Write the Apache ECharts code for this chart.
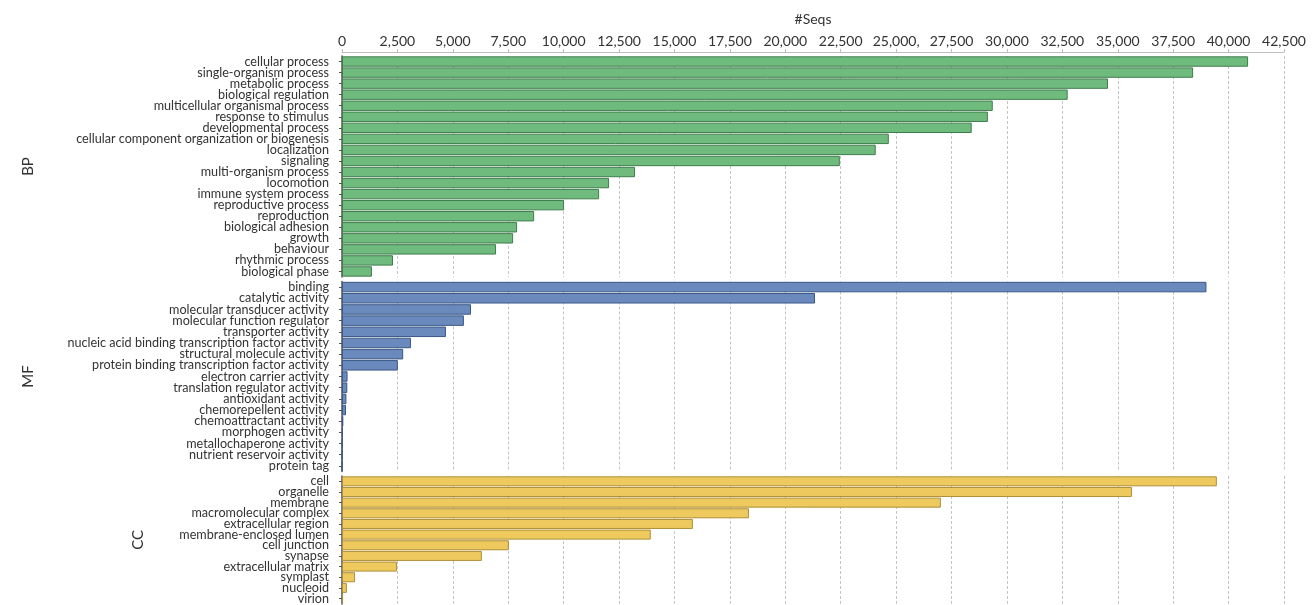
<!DOCTYPE html>
<html>
<head>
<meta charset="utf-8">
<script src="https://cdn.jsdelivr.net/npm/echarts@6/dist/echarts.min.js"></script>
<style>
  html, body { margin: 0; padding: 0; background: #ffffff; }
  #chart { width: 1312px; height: 605px; }
</style>
</head>
<body>
<div id="chart"></div>
<script>
// GO term counts per ontology (number of sequences)
const bpCategories = [
  'cellular process', 'single-organism process', 'metabolic process', 'biological regulation',
  'multicellular organismal process', 'response to stimulus', 'developmental process',
  'cellular component organization or biogenesis', 'localization', 'signaling',
  'multi-organism process', 'locomotion', 'immune system process', 'reproductive process',
  'reproduction', 'biological adhesion', 'growth', 'behaviour', 'rhythmic process', 'biological phase'
];
const bpValues = [
  40880, 38400, 34560, 32740, 29360, 29140, 28410, 24670, 24080, 22460,
  13220, 12050, 11600, 10020, 8670, 7900, 7720, 6950, 2300, 1350
];

const mfCategories = [
  'binding', 'catalytic activity', 'molecular transducer activity', 'molecular function regulator',
  'transporter activity', 'nucleic acid binding transcription factor activity',
  'structural molecule activity', 'protein binding transcription factor activity',
  'electron carrier activity', 'translation regulator activity', 'antioxidant activity',
  'chemorepellent activity', 'chemoattractant activity', 'morphogen activity',
  'metallochaperone activity', 'nutrient reservoir activity', 'protein tag'
];
const mfValues = [
  39000, 21340, 5820, 5500, 4690, 3110, 2760, 2520,
  250, 240, 200, 180, 60, 40, 20, 15, 5
];

const ccCategories = [
  'cell', 'organelle', 'membrane', 'macromolecular complex', 'extracellular region',
  'membrane-enclosed lumen', 'cell junction', 'synapse', 'extracellular matrix',
  'symplast', 'nucleoid', 'virion'
];
const ccValues = [
  39470, 35640, 27020, 18360, 15830, 13930, 7530, 6310, 2480, 590, 220, 50
];

const xTickStep = 2500;
const xTickLabels = [
  '0', '2,500', '5,000', '7,500', '10,000', '12,500', '15,000', '17,500', '20,000',
  '22,500', '25,000,', '27,500', '30,000', '32,500', '35,000', '37,500', '40,000', '42,500'
];

const FONT = 'Lato, "Liberation Sans", sans-serif';
const LEFT = 342;
const RIGHT = 28;

const panels = [
  { name: 'BP', cats: bpCategories, vals: bpValues, top: 56, height: 221, nameGap: 306,
    fill: '#6fbb7d', edge: '#3f7d4d' },
  { name: 'MF', cats: mfCategories, vals: mfValues, top: 281.5, height: 190, nameGap: 306,
    fill: '#6a89bd', edge: '#3a5886' },
  { name: 'CC', cats: ccCategories, vals: ccValues, top: 476, height: 129, nameGap: 196,
    fill: '#edc95e', edge: '#b08f35' }
];

const grid = [], xAxis = [], yAxis = [], series = [];

panels.forEach((p, i) => {
  grid.push({ left: LEFT, right: RIGHT, top: p.top, height: p.height });
  const isTop = i === 0;
  xAxis.push({
    gridIndex: i,
    type: 'value',
    position: 'top',
    min: 0,
    max: 42500,
    interval: xTickStep,
    offset: isTop ? 4 : 0,
    name: isTop ? '#Seqs' : '',
    nameLocation: 'middle',
    nameGap: 26,
    nameMoveOverlap: false,
    nameTextStyle: { fontFamily: FONT, fontSize: 14, color: '#333333' },
    axisLine: { show: isTop, lineStyle: { color: '#bdbdbd', width: 1 } },
    axisTick: { show: isTop, length: 3, lineStyle: { color: '#bdbdbd' } },
    axisLabel: {
      show: isTop,
      margin: 4,
      fontFamily: FONT,
      fontSize: 14,
      color: '#333333',
      formatter: v => xTickLabels[Math.round(v / xTickStep)] ?? ''
    },
    splitLine: { show: true, lineStyle: { color: '#c4c4c4', type: [3, 2], width: 1 } }
  });
  yAxis.push({
    gridIndex: i,
    type: 'category',
    data: p.cats,
    inverse: true,
    name: p.name,
    nameLocation: 'middle',
    nameRotate: 90,
    nameGap: p.nameGap,
    nameMoveOverlap: false,
    nameTextStyle: { fontFamily: FONT, fontSize: 15, color: '#333333' },
    axisLine: { show: true, lineStyle: { color: '#555555', width: 1.5 } },
    axisTick: { show: true, length: 3, alignWithLabel: true, lineStyle: { color: '#555555' } },
    axisLabel: {
      margin: 13,
      fontFamily: FONT,
      fontSize: 12.6,
      color: '#333333',
      interval: 0,
      lineHeight: 12
    },
    splitLine: { show: false }
  });
  series.push({
    type: 'bar',
    xAxisIndex: i,
    yAxisIndex: i,
    data: p.vals,
    barCategoryGap: '6%',
    itemStyle: { color: p.fill, borderColor: p.edge, borderWidth: 1 },
    silent: true,
    animation: false
  });
});

const chart = echarts.init(document.getElementById('chart'), null, { renderer: 'canvas' });
chart.setOption({
  backgroundColor: '#ffffff',
  animation: false,
  grid,
  xAxis,
  yAxis,
  series
});
</script>
</body>
</html>
